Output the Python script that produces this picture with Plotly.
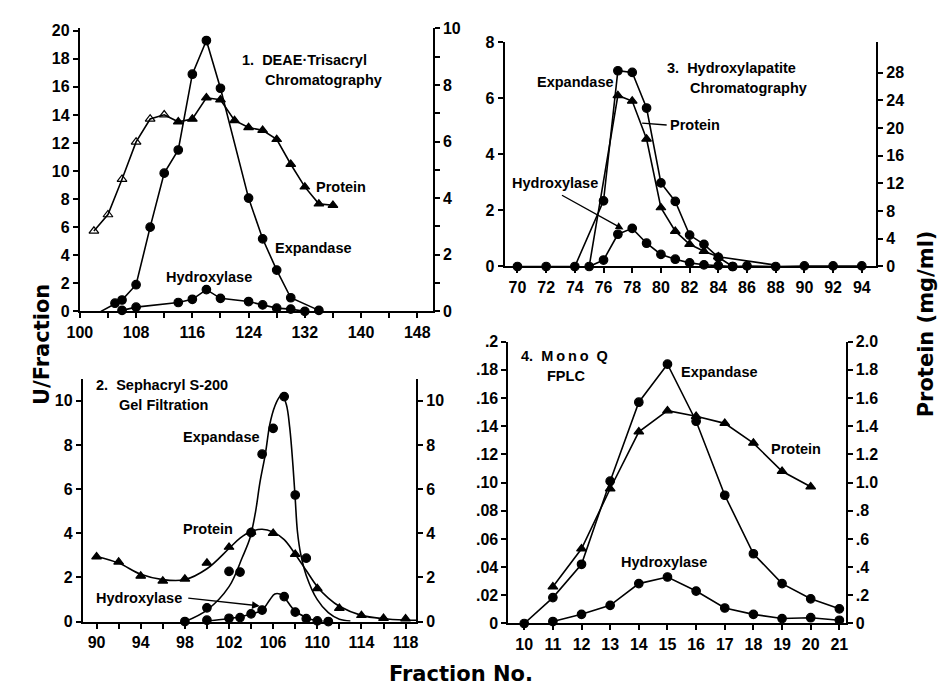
import plotly.graph_objects as go

W, H = 945, 692

# ---------------- Panel 1: DEAE-Trisacryl ----------------
p1_protein_frac = [102, 104, 106, 108, 110, 112, 114, 116, 118, 120, 122, 124, 126, 128, 130, 132, 134, 136]
p1_protein = [2.84, 3.42, 4.67, 5.99, 6.80, 6.95, 6.70, 6.80, 7.55, 7.48, 6.75, 6.50, 6.40, 6.08, 5.20, 4.40, 3.80, 3.75]
p1_protein_open = [True, True, True, True, True, True] + [False] * 12
p1_exp_frac = [103, 105, 106, 108, 110, 112, 114, 116, 118, 120, 124, 126, 128, 130, 134]
p1_exp = [0, 0.58, 0.81, 1.9, 6.0, 9.85, 11.5, 16.9, 19.3, 15.9, 8.07, 5.17, 2.94, 0.97, 0.07]
p1_hyd_frac = [106, 108, 114, 116, 118, 120, 124, 126, 128, 130, 132]
p1_hyd = [0.07, 0.30, 0.63, 0.86, 1.55, 0.93, 0.70, 0.46, 0.23, 0.16, 0.0]

# ---------------- Panel 2: Sephacryl S-200 ----------------
p2_protein_frac = [90, 92, 94, 96, 98, 100, 102, 104, 106, 108, 110, 112, 114, 116, 118]
p2_protein = [2.93, 2.70, 2.06, 1.84, 1.93, 2.65, 3.37, 4.05, 4.00, 3.05, 1.50, 0.60, 0.28, 0.15, 0.13]
p2_protein_fit_frac = [90, 92, 94, 96, 98, 100, 102, 103, 104, 105, 106, 107, 108, 109, 110, 111, 112, 114, 116, 118, 119]
p2_protein_fit = [2.95, 2.65, 2.14, 1.90, 1.90, 2.39, 3.31, 3.78, 4.08, 4.18, 4.05, 3.71, 3.05, 2.31, 1.58, 1.06, 0.69, 0.28, 0.13, 0.07, 0.06]
p2_exp_frac = [98, 100, 102, 103, 104, 105, 106, 107, 108, 109]
p2_exp = [0, 0.62, 2.27, 2.24, 4.03, 7.58, 8.75, 10.19, 5.73, 2.87]
p2_exp_fit_frac = [98, 100, 102, 103.2, 103.9, 104.4, 104.8, 105.3, 105.7, 106.15, 106.6, 106.8, 107.2, 107.5, 107.8, 108.0, 108.2, 108.5, 109.0, 110.0, 111.0, 112.0, 113.0]
p2_exp_fit = [0, 0.52, 1.58, 2.9, 3.78, 4.96, 6.29, 7.61, 8.94, 9.75, 10.19, 10.27, 9.82, 8.79, 7.03, 5.55, 4.08, 3.05, 2.09, 0.99, 0.40, 0.10, 0.02]
p2_hyd_frac = [100, 102, 103, 104, 105, 107, 108, 109, 110, 111]
p2_hyd = [0.06, 0.15, 0.18, 0.35, 0.52, 1.13, 0.43, 0.13, 0.03, 0.0]
p2_hyd_fit_frac = [99.9, 101.9, 103.9, 105.0, 105.7, 106.15, 106.6, 107.0, 107.9, 109.0, 110.0, 111.0]
p2_hyd_fit = [0.03, 0.13, 0.32, 0.52, 0.99, 1.25, 1.25, 1.10, 0.52, 0.18, 0.03, 0.0]

# ---------------- Panel 3: Hydroxylapatite ----------------
p3_exp_frac = [70, 72, 74, 76, 77, 78, 79, 80, 81, 82, 83, 84, 85, 86, 88, 90, 92, 94]
p3_exp = [0, 0, 0, 2.34, 6.98, 6.92, 5.65, 2.98, 2.32, 1.12, 0.79, 0.33, 0, 0.02, 0, 0.02, 0.02, 0.02]
p3_protein_frac = [75, 77, 78, 79, 80, 81, 82, 83, 84, 88]
p3_protein = [0, 24.7, 23.9, 18.4, 8.5, 5.1, 3.2, 2.2, 1.4, 0.2]
p3_hyd_frac = [75, 76, 77, 78, 79, 80, 81, 82, 83, 84, 85]
p3_hyd = [0, 0.23, 1.15, 1.36, 0.83, 0.43, 0.26, 0.13, 0.06, 0.03, 0]

# ---------------- Panel 4: Mono Q FPLC ----------------
p4_exp_frac = [10, 11, 12, 13, 14, 15, 16, 17, 18, 19, 20, 21]
p4_exp = [0, 0.0184, 0.042, 0.101, 0.157, 0.184, 0.1435, 0.091, 0.0495, 0.0283, 0.0175, 0.0104]
p4_protein_frac = [11, 12, 13, 14, 15, 16, 17, 18, 19, 20]
p4_protein = [0.26, 0.53, 0.956, 1.36, 1.51, 1.47, 1.42, 1.28, 1.08, 0.97]
p4_hyd_frac = [11, 12, 13, 14, 15, 16, 17, 18, 19, 20, 21]
p4_hyd = [0.0014, 0.0065, 0.0129, 0.0283, 0.033, 0.023, 0.011, 0.0065, 0.0035, 0.0041, 0.0023]

# tick labels
p1_x_ticks = list(range(100, 149, 4))
p1_x_text = [str(v) if (v - 100) % 8 == 0 else "" for v in p1_x_ticks]
p1_yl_ticks = list(range(0, 21, 2))
p1_yr_ticks = list(range(0, 11))
p1_yr_text = [str(v) if v % 2 == 0 else "" for v in p1_yr_ticks]
p2_x_ticks = list(range(90, 119, 2))
p2_x_text = [str(v) if (v - 90) % 4 == 0 else "" for v in p2_x_ticks]
p2_y_ticks = list(range(0, 11, 2))
p3_x_ticks = list(range(70, 95, 2))
p3_yl_ticks = [0, 2, 4, 6, 8]
p3_yr_ticks = [0, 4, 8, 12, 16, 20, 24, 28]
p4_x_ticks = list(range(10, 22))
p4_yl_ticks = [0, 0.02, 0.04, 0.06, 0.08, 0.10, 0.12, 0.14, 0.16, 0.18, 0.2]
p4_yl_text = ["0", ".02", ".04", ".06", ".08", ".10", ".12", ".14", ".16", ".18", ".2"]
p4_yr_ticks = [0, 0.2, 0.4, 0.6, 0.8, 1.0, 1.2, 1.4, 1.6, 1.8, 2.0]
p4_yr_text = ["0", ".2", ".4", ".6", ".8", "1.0", "1.2", "1.4", "1.6", "1.8", "2.0"]

FONT = "Liberation Sans"
BLK = "black"


def px_x(px):
    return px / W


def px_y(py):
    return 1 - py / H


fig = go.Figure()


def line_trace(x, y, xa, ya, symbol="circle", size=8.5, sizes=None, mode="lines+markers", shape="linear"):
    return go.Scatter(
        x=x, y=y, xaxis=xa, yaxis=ya, mode=mode,
        line=dict(color=BLK, width=1.6, shape=shape, smoothing=1.0 if shape == "spline" else None),
        marker=dict(symbol=symbol, size=sizes if sizes is not None else size, color=BLK, opacity=1,
                    line=dict(color=BLK, width=1.2)),
        showlegend=False, hoverinfo="skip", cliponaxis=False,
    )


# Panel 1
fig.add_trace(line_trace(p1_protein_frac, p1_protein, "x", "y2",
                         symbol=["triangle-up-open" if o else "triangle-up" for o in p1_protein_open]))
fig.add_trace(line_trace(p1_exp_frac, p1_exp, "x", "y", sizes=[0] + [8.5] * (len(p1_exp) - 1)))
fig.add_trace(line_trace(p1_hyd_frac, p1_hyd, "x", "y"))

# Panel 2 (fitted curves + points)
fig.add_trace(line_trace(p2_protein_fit_frac, p2_protein_fit, "x2", "y4", mode="lines", shape="spline"))
fig.add_trace(line_trace(p2_exp_fit_frac, p2_exp_fit, "x2", "y3", mode="lines", shape="spline"))
fig.add_trace(line_trace(p2_hyd_fit_frac, p2_hyd_fit, "x2", "y3", mode="lines", shape="spline"))
fig.add_trace(line_trace(p2_protein_frac, p2_protein, "x2", "y4", symbol="triangle-up", mode="markers"))
fig.add_trace(line_trace(p2_exp_frac, p2_exp, "x2", "y3", mode="markers"))
fig.add_trace(line_trace(p2_hyd_frac, p2_hyd, "x2", "y3", mode="markers"))

# Panel 3
fig.add_trace(line_trace(p3_exp_frac, p3_exp, "x3", "y5"))
fig.add_trace(line_trace(p3_protein_frac, p3_protein, "x3", "y6", symbol="triangle-up",
                         sizes=[0] + [8.5] * (len(p3_protein) - 2) + [0]))
fig.add_trace(line_trace(p3_hyd_frac, p3_hyd, "x3", "y5"))

# Panel 4
fig.add_trace(line_trace(p4_exp_frac, p4_exp, "x4", "y7"))
fig.add_trace(line_trace(p4_protein_frac, p4_protein, "x4", "y8", symbol="triangle-up"))
fig.add_trace(line_trace(p4_hyd_frac, p4_hyd, "x4", "y7"))

tickfont = dict(family=FONT, size=16, color=BLK, weight="bold")
axis_common = dict(showline=True, linecolor=BLK, linewidth=2, ticks="outside", ticklen=5,
                   tickwidth=2, tickcolor=BLK, showgrid=False, zeroline=False, tickfont=tickfont,
                   fixedrange=True)


def xa(domain, rng, tickvals, ticktext, anchor):
    return dict(axis_common, domain=domain, range=rng, tickmode="array", tickvals=tickvals,
                ticktext=ticktext, anchor=anchor)


def ya(domain, rng, tickvals, ticktext, anchor, side="left", overlay=None):
    d = dict(axis_common, range=rng, tickmode="array", tickvals=tickvals,
             ticktext=ticktext, anchor=anchor, side=side)
    if overlay:
        d["overlaying"] = overlay
    else:
        d["domain"] = domain
    return d


# domains from pixel geometry
d1x = [px_x(68), px_x(427)]
d1y = [px_y(311), px_y(21)]
d2x = [px_x(71), px_x(410)]
d2y = [px_y(629), px_y(380)]
d3x = [px_x(500), px_x(878)]
d3y = [px_y(265), px_y(35)]
d4x = [px_x(504), px_x(847)]
d4y = [px_y(631), px_y(342)]

layout = dict(
    width=W, height=H, autosize=False,
    margin=dict(l=0, r=0, t=0, b=0),
    paper_bgcolor="white", plot_bgcolor="rgba(0,0,0,0)",
    xaxis=xa(d1x, [100, 150.2], p1_x_ticks, p1_x_text, "y"),
    yaxis=ya(d1y, [0, 20.16], p1_yl_ticks, [str(v) for v in p1_yl_ticks], "x"),
    yaxis2=ya(None, [0, 10], p1_yr_ticks, p1_yr_text, "x", side="right", overlay="y"),
    xaxis2=xa(d2x, [88.75, 118.95], p2_x_ticks, p2_x_text, "y3"),
    yaxis3=ya(d2y, [0, 11], p2_y_ticks, [str(v) for v in p2_y_ticks], "x2"),
    yaxis4=ya(None, [0, 11], p2_y_ticks, [str(v) for v in p2_y_ticks], "x2", side="right", overlay="y3"),
    xaxis3=xa(d3x, [69.1, 95.0], p3_x_ticks, [str(v) for v in p3_x_ticks], "y5"),
    yaxis5=ya(d3y, [0, 8], p3_yl_ticks, [str(v) for v in p3_yl_ticks], "x3"),
    yaxis6=ya(None, [0, 32.4], p3_yr_ticks, [str(v) for v in p3_yr_ticks], "x3", side="right", overlay="y5"),
    xaxis4=xa(d4x, [9.45, 21.22], p4_x_ticks, [str(v) for v in p4_x_ticks], "y7"),
    yaxis7=ya(d4y, [0, 0.2], p4_yl_ticks, p4_yl_text, "x4"),
    yaxis8=ya(None, [0, 2.0], p4_yr_ticks, p4_yr_text, "x4", side="right", overlay="y7"),
)
fig.update_layout(**layout)

lab_font = dict(family=FONT, size=14.5, color=BLK, weight="bold")
labels = [
    ("1.  DEAE\u00b7Trisacryl", 232, 53),
    ("Chromatography", 255, 74),
    ("Protein", 307, 183),
    ("Expandase", 266, 246),
    ("Hydroxylase", 155, 276),
    ("2.  Sephacryl S-200", 83, 387),
    ("Gel Filtration", 107, 407),
    ("Expandase", 172, 440),
    ("Protein", 172, 534),
    ("Hydroxylase", 83, 605),
    ("Expandase", 532, 76),
    ("3.  Hydroxylapatite", 664, 62),
    ("Chromatography", 688, 82),
    ("Protein", 667, 120),
    ("Hydroxylase", 507, 179),
    ("4.  M\u2009o\u2009n\u2009o  Q", 516, 357),
    ("FPLC", 542, 377),
    ("Expandase", 678, 373),
    ("Protein", 770, 452),
    ("Hydroxylase", 617, 568),
]
for text, lx, cy in labels:
    fig.add_annotation(text=text, x=px_x(lx), y=px_y(cy), xref="paper", yref="paper",
                       xanchor="left", yanchor="middle", showarrow=False, font=lab_font, borderpad=0)

# leader lines / arrows
arrows = [
    (640, 118, 26, 2, 0),     # panel 3 Protein leader
    (621, 227, -63, -35, 2),  # panel 3 Hydroxylase arrow
    (251, 613, -73, -8, 2),   # panel 2 Hydroxylase arrow
]
for tx, ty, axo, ayo, head in arrows:
    fig.add_annotation(text="", x=px_x(tx), y=px_y(ty), xref="paper", yref="paper",
                       showarrow=True, ax=axo, ay=ayo, arrowhead=head, arrowsize=1.1,
                       arrowwidth=1.4, arrowcolor=BLK)

title_font = dict(family="DejaVu Sans", size=21, color=BLK, weight="bold")
fig.add_annotation(text="U/Fraction", x=px_x(29), y=px_y(345), xref="paper", yref="paper",
                   textangle=-90, showarrow=False, font=title_font, xanchor="center", yanchor="middle")
fig.add_annotation(text="Protein (mg/ml)", x=px_x(929), y=px_y(324), xref="paper", yref="paper",
                   textangle=-90, showarrow=False, font=title_font, xanchor="center", yanchor="middle")
fig.add_annotation(text="Fraction No.", x=px_x(456), y=px_y(683), xref="paper", yref="paper",
                   showarrow=False, font=title_font, xanchor="center", yanchor="middle")

fig.write_html("out.html", config={"displayModeBar": False, "staticPlot": True},
               post_script="document.body.style.margin='0';")
